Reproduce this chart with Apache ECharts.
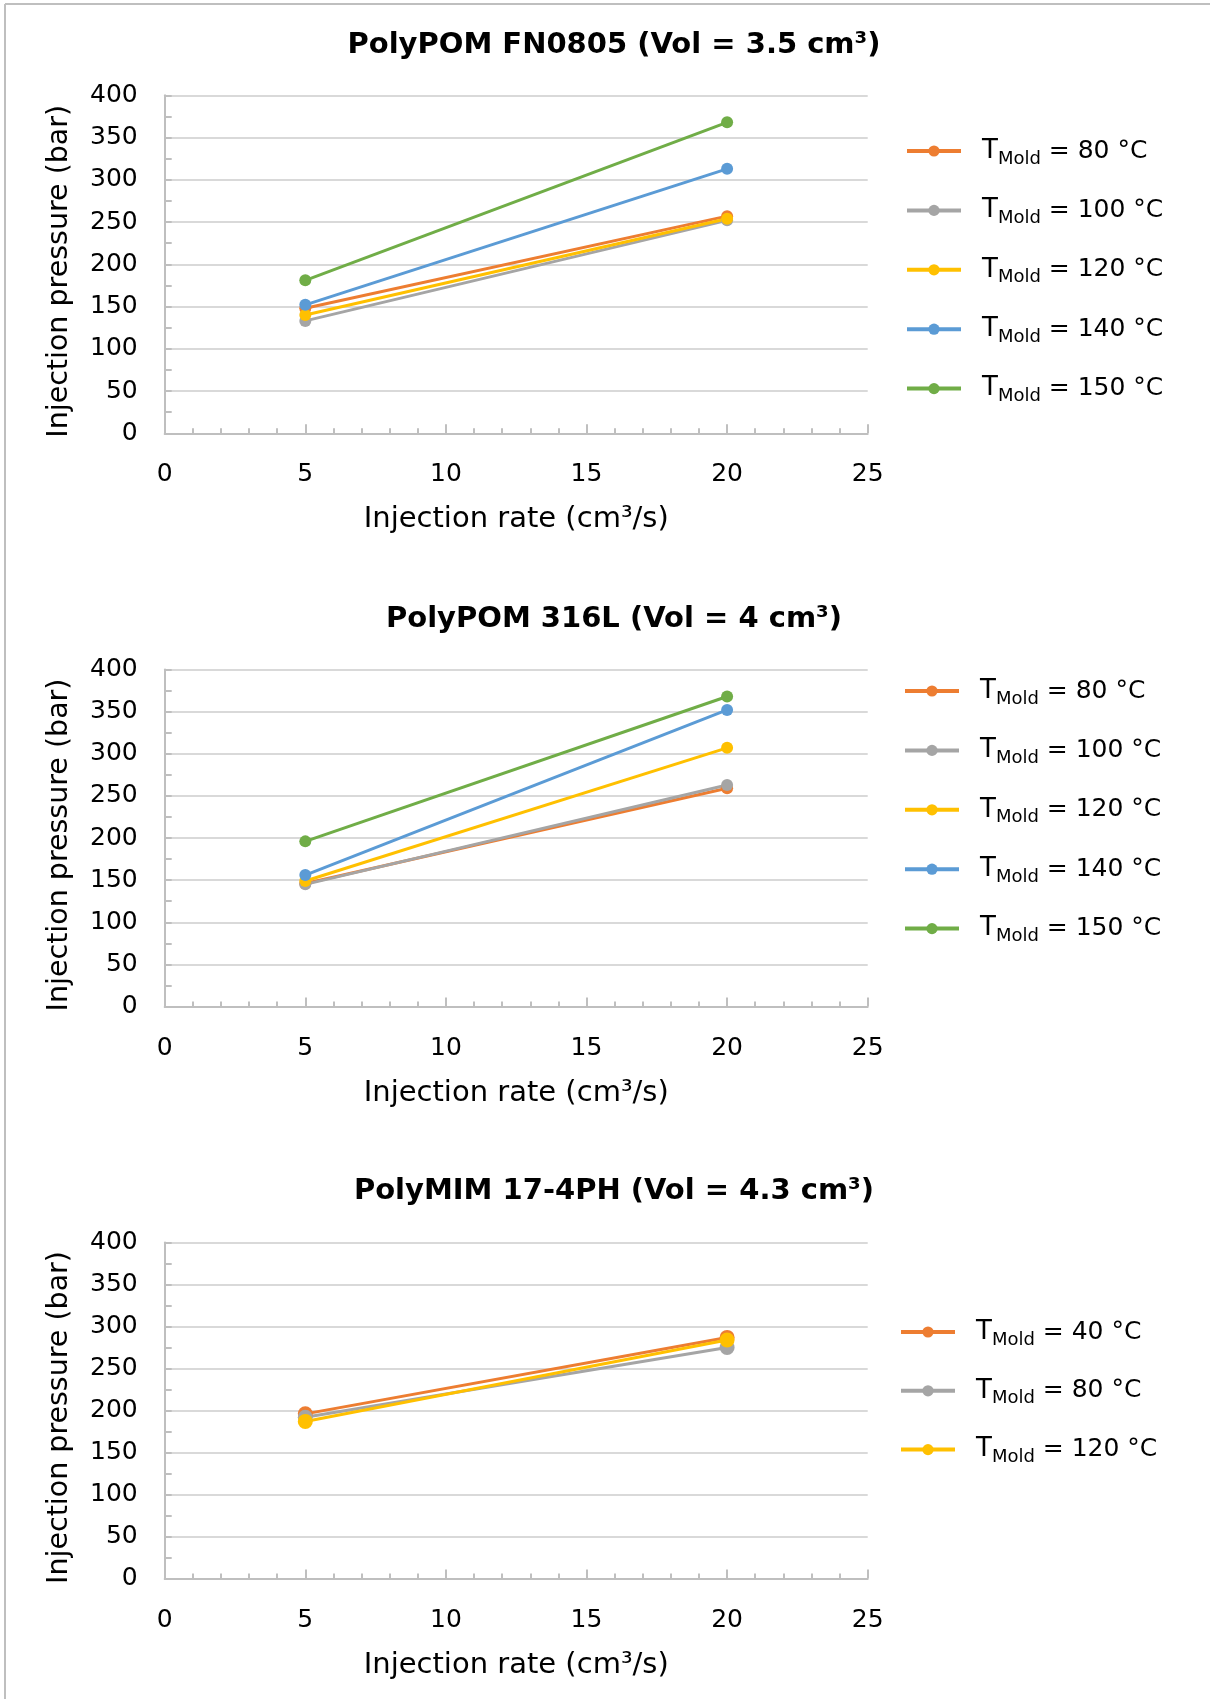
<!DOCTYPE html>
<html><head><meta charset="utf-8">
<script src="https://cdn.jsdelivr.net/npm/echarts@6/dist/echarts.min.js"></script>
<style>html,body{margin:0;padding:0;background:#fff}#c{width:1210px;height:1699px}</style>
</head><body><div id="c"></div>
<script>
// ---- data ----
const injectionRates = [5, 20];                 // x values (cm³/s)
const xTickLabels = [0, 5, 10, 15, 20, 25];
const yTickLabels = [0, 50, 100, 150, 200, 250, 300, 350, 400];

const chartTitles = [
  'PolyPOM FN0805 (Vol = 3.5 cm³)',
  'PolyPOM 316L (Vol = 4 cm³)',
  'PolyMIM 17-4PH (Vol = 4.3 cm³)'
];

// PolyPOM FN0805 — mold temperatures and pressures (bar)
const fn0805Temps = [80, 100, 120, 140, 150];
const fn0805_T80  = [148, 257];
const fn0805_T100 = [133, 252];
const fn0805_T120 = [140, 254];
const fn0805_T140 = [152, 313];
const fn0805_T150 = [181, 368];

// PolyPOM 316L
const p316Temps = [80, 100, 120, 140, 150];
const p316_T80  = [146, 259];
const p316_T100 = [145, 263];
const p316_T120 = [149, 307];
const p316_T140 = [156, 352];
const p316_T150 = [196, 368];

// PolyMIM 17-4PH
const mim174Temps = [40, 80, 120];
const mim174_T40  = [196, 287];
const mim174_T80  = [192, 275];
const mim174_T120 = [187, 284];

// ---- styling ----
const palette = ['#ED7D31', '#A5A5A5', '#FFC000', '#5B9BD5', '#70AD47'];
const FONT = 'DejaVu Sans';

const panels = [
  { temps: fn0805Temps, values: [fn0805_T80, fn0805_T100, fn0805_T120, fn0805_T140, fn0805_T150],
    gridTop: 95.3, gridH: 338, titleY: 31, legendTop: 133, legendLeft: 900, legendGap: 29.4, sym: 12 },
  { temps: p316Temps, values: [p316_T80, p316_T100, p316_T120, p316_T140, p316_T150],
    gridTop: 669.5, gridH: 337, titleY: 605, legendTop: 673, legendLeft: 898, legendGap: 29.4, sym: 12 },
  { temps: mim174Temps, values: [mim174_T40, mim174_T80, mim174_T120],
    gridTop: 1242.5, gridH: 336, titleY: 1177, legendTop: 1314, legendLeft: 894, legendGap: 28.8, sym: 15 }
];

const GRID_LEFT = 164.7, GRID_W = 703;
const axisGray = '#BFBFBF', gridGray = '#D9D9D9';

const title = [], grid = [], xAxis = [], yAxis = [], legend = [], series = [];
const nameToTemp = {};

panels.forEach((p, i) => {
  title.push({
    text: chartTitles[i], left: 614, top: p.titleY, textAlign: 'center', padding: 0,
    textStyle: { fontFamily: FONT, fontWeight: 'bold', fontSize: 29, color: '#000' }
  });
  grid.push({ left: GRID_LEFT, top: p.gridTop, width: GRID_W, height: p.gridH });
  xAxis.push({
    type: 'value', gridIndex: i, min: xTickLabels[0], max: xTickLabels[xTickLabels.length - 1], interval: 5,
    name: 'Injection rate (cm³/s)', nameLocation: 'middle', nameGap: 72,
    nameTextStyle: { fontFamily: FONT, fontSize: 29, color: '#000' },
    axisLine: { show: true, lineStyle: { color: axisGray, width: 2 } },
    axisTick: { show: true, inside: true, length: 9, lineStyle: { color: axisGray, width: 2 } },
    minorTick: { show: true, splitNumber: 5, length: 5, lineStyle: { color: axisGray, width: 2 } },
    splitLine: { show: false },
    axisLabel: { fontFamily: FONT, fontSize: 25, color: '#000', margin: 29 }
  });
  yAxis.push({
    type: 'value', gridIndex: i, min: yTickLabels[0], max: yTickLabels[yTickLabels.length - 1], interval: 50,
    name: 'Injection pressure (bar)', nameLocation: 'middle', nameGap: 91, nameRotate: 90,
    nameTextStyle: { fontFamily: FONT, fontSize: 28.5, color: '#000', padding: [0, 14, 0, 0] },
    axisLine: { show: true, lineStyle: { color: axisGray, width: 2 } },
    axisTick: { show: true, inside: true, length: 7, lineStyle: { color: axisGray, width: 2 } },
    minorTick: { show: true, splitNumber: 2, length: 7, lineStyle: { color: axisGray, width: 2 } },
    splitLine: { show: true, lineStyle: { color: gridGray, width: 2 } },
    axisLabel: { fontFamily: FONT, fontSize: 25, color: '#000', margin: 27 }
  });
  const names = [];
  p.temps.forEach((t, k) => {
    const name = 'P' + i + '_T' + t;
    nameToTemp[name] = t;
    names.push(name);
    series.push({
      name, type: 'line', xAxisIndex: i, yAxisIndex: i,
      data: injectionRates.map((x, j) => [x, p.values[k][j]]),
      symbol: 'circle', symbolSize: p.sym, showSymbol: true,
      lineStyle: { color: palette[k], width: 3 },
      itemStyle: { color: palette[k] },
      emphasis: { disabled: true }, animation: false
    });
  });
  legend.push({
    data: names, orient: 'vertical', left: p.legendLeft, top: p.legendTop,
    itemWidth: 54, itemHeight: 14, itemGap: p.legendGap, selectedMode: false,
    lineStyle: { width: 4 },
    formatter: n => '{p|T}{s|Mold}{t| = ' + nameToTemp[n] + ' °C}',
    textStyle: {
      fontFamily: FONT, color: '#000',
      rich: {
        p: { fontFamily: FONT, fontSize: 26, color: '#000', lineHeight: 34, padding: [0, 0, 0, 16] },
        t: { fontFamily: FONT, fontSize: 25, color: '#000', lineHeight: 34 },
        s: { fontFamily: FONT, fontSize: 18, color: '#000', lineHeight: 22, verticalAlign: 'bottom' }
      }
    }
  });
});

const chart = echarts.init(document.getElementById('c'), null, { renderer: 'canvas' });
chart.setOption({
  backgroundColor: '#fff', animation: false,
  title, grid, xAxis, yAxis, legend, series,
  graphic: [
    { type: 'line', shape: { x1: 5, y1: 4, x2: 1210, y2: 4 }, style: { stroke: '#BFBFBF', lineWidth: 2 } },
    { type: 'line', shape: { x1: 5, y1: 4, x2: 5, y2: 1699 }, style: { stroke: '#BFBFBF', lineWidth: 2 } }
  ]
});
</script></body></html>
